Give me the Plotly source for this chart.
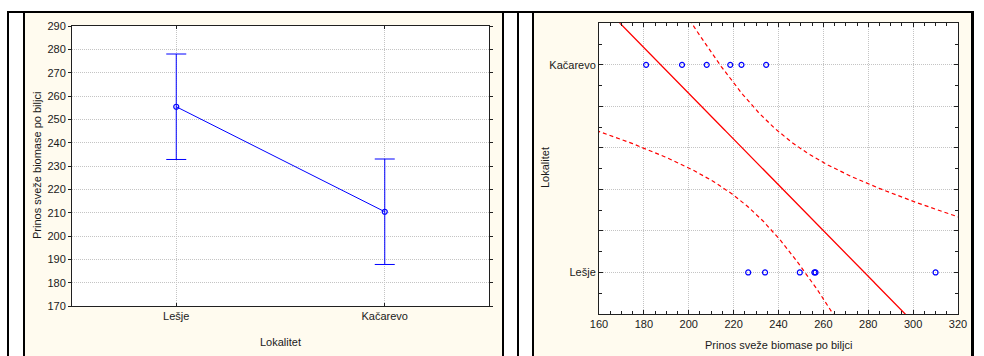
import numpy as np
import plotly.graph_objects as go

# ---------------- data ----------------
categories = ["Lešje", "Kačarevo"]
means = [255.4, 210.4]
ci_half = [22.6, 22.6]

lesje_vals = [226.5, 234.0, 249.5, 256.0, 256.5, 310.0]
kacarevo_vals = [181.0, 197.0, 208.0, 218.5, 223.5, 234.5]
group_codes = [0, 1]  # Lešje = 0, Kačarevo = 1

left_yticks = list(range(170, 291, 10))
right_xticks = list(range(160, 321, 20))
right_ygrid = [-0.2, 0.0, 0.2, 0.4, 0.6, 0.8, 1.0, 1.2]

# ---------------- regression (group code on biomass) with 95% CI ----------------
xs = np.array(lesje_vals + kacarevo_vals)
ys = np.array([group_codes[0]] * len(lesje_vals) + [group_codes[1]] * len(kacarevo_vals), dtype=float)
n = len(xs)
b, a = np.polyfit(xs, ys, 1)
xm = xs.mean()
sxx = ((xs - xm) ** 2).sum()
s = np.sqrt(((ys - (a + b * xs)) ** 2).sum() / (n - 2))
t_crit = 2.228  # t(0.975, df=10)
xg = np.linspace(150, 330, 361)
yfit = a + b * xg
hw = t_crit * s * np.sqrt(1.0 / n + (xg - xm) ** 2 / sxx)

W, H = 984, 356
def px(v):
    return v / W
def py(v):
    return 1 - v / H

fig = go.Figure()

BLUE = "#0000FF"
RED = "#FF0000"
TXT = "#1a1a1a"
FONT = "Liberation Sans, Arial, sans-serif"

# left chart: means with error bars
fig.add_trace(go.Scatter(
    x=categories, y=means, mode="lines+markers",
    line=dict(color=BLUE, width=1),
    marker=dict(symbol="circle-open", size=5, color=BLUE, line=dict(width=1.2)),
    error_y=dict(type="data", array=ci_half, color=BLUE, thickness=1, width=10),
    xaxis="x", yaxis="y", showlegend=False, hoverinfo="skip"))

# right chart: regression line and 95% confidence band
fig.add_trace(go.Scatter(
    x=xg, y=yfit, mode="lines", line=dict(color=RED, width=1.3),
    xaxis="x2", yaxis="y2", showlegend=False))
fig.add_trace(go.Scatter(
    x=xg, y=yfit + hw, mode="lines", line=dict(color=RED, width=1.2, dash="4px,3px"),
    xaxis="x2", yaxis="y2", showlegend=False))
fig.add_trace(go.Scatter(
    x=xg, y=yfit - hw, mode="lines", line=dict(color=RED, width=1.2, dash="4px,3px"),
    xaxis="x2", yaxis="y2", showlegend=False))

# right chart: points
fig.add_trace(go.Scatter(
    x=lesje_vals, y=[group_codes[0]] * len(lesje_vals), mode="markers",
    marker=dict(symbol="circle-open", size=5, color=BLUE, line=dict(width=1.2)),
    xaxis="x2", yaxis="y2", showlegend=False))
fig.add_trace(go.Scatter(
    x=kacarevo_vals, y=[group_codes[1]] * len(kacarevo_vals), mode="markers",
    marker=dict(symbol="circle-open", size=5, color=BLUE, line=dict(width=1.2)),
    xaxis="x2", yaxis="y2", showlegend=False))

axis_common = dict(
    showline=True, linecolor="#202020", linewidth=1, mirror="ticks",
    showgrid=True, gridcolor="#C4C4C4", griddash="1px,1px", gridwidth=1,
    zeroline=False, tickfont=dict(size=11, color=TXT, family=FONT),
    ticks="inside", ticklen=3, tickcolor="#202020", automargin=False,
)

shapes = []
CREAM = "#FFFBEF"
# cream panels
shapes.append(dict(type="rect", xref="paper", yref="paper", x0=px(25), x1=px(502), y0=py(356), y1=py(13),
                   fillcolor=CREAM, line=dict(width=0), layer="below"))
shapes.append(dict(type="rect", xref="paper", yref="paper", x0=px(534), x1=px(971), y0=py(356), y1=py(13),
                   fillcolor=CREAM, line=dict(width=0), layer="below"))
# white plot areas
shapes.append(dict(type="rect", xref="paper", yref="paper", x0=px(72), x1=px(489), y0=py(306), y1=py(26),
                   fillcolor="white", line=dict(width=0), layer="below"))
shapes.append(dict(type="rect", xref="paper", yref="paper", x0=px(599), x1=px(958), y0=py(314), y1=py(23.3),
                   fillcolor="white", line=dict(width=0), layer="below"))
# black table borders
shapes.append(dict(type="rect", xref="paper", yref="paper", x0=px(7), x1=px(974), y0=py(13), y1=py(11),
                   fillcolor="black", line=dict(width=0), layer="above"))
for x0, x1 in [(7, 9), (23, 25), (502, 504), (517, 519), (532, 534), (971, 974)]:
    shapes.append(dict(type="rect", xref="paper", yref="paper", x0=px(x0), x1=px(x1), y0=py(356), y1=py(11),
                       fillcolor="black", line=dict(width=0), layer="above"))

annotations = [
    dict(text="Prinos sveže biomase po biljci", xref="paper", yref="paper", x=px(37), y=py(166),
         textangle=-90, showarrow=False, font=dict(size=11, color=TXT, family=FONT),
         xanchor="center", yanchor="middle"),
    dict(text="Lokalitet", xref="paper", yref="paper", x=px(280.5), y=py(342),
         showarrow=False, font=dict(size=11, color=TXT, family=FONT), xanchor="center", yanchor="middle"),
    dict(text="Lokalitet", xref="paper", yref="paper", x=px(545), y=py(168),
         textangle=-90, showarrow=False, font=dict(size=11, color=TXT, family=FONT),
         xanchor="center", yanchor="middle"),
    dict(text="Prinos sveže biomase po biljci", xref="paper", yref="paper", x=px(778), y=py(345),
         showarrow=False, font=dict(size=11, color=TXT, family=FONT), xanchor="center", yanchor="middle"),
]

right_yticktext = [categories[group_codes.index(v)] if v in group_codes else "" for v in
                   [round(g, 1) for g in right_ygrid]]

fig.update_layout(
    width=W, height=H, margin=dict(l=0, r=0, t=0, b=0, pad=0, autoexpand=False),
    autosize=False,
    paper_bgcolor="white", plot_bgcolor="white",
    font=dict(family=FONT, size=11, color=TXT),
    xaxis=dict(axis_common, domain=[px(72), px(489)], anchor="y", type="category",
               range=[-0.5, 1.5], ticklen=3),
    yaxis=dict(axis_common, domain=[py(306), py(26)], anchor="x", range=[170, 290],
               tickvals=left_yticks, ticks="outside", ticklen=3),
    xaxis2=dict(axis_common, domain=[px(599), px(958)], anchor="y2", range=[160, 320],
                tickvals=right_xticks, ticklen=4,
                minor=dict(dtick=5, tick0=160, ticks="inside", ticklen=3, tickcolor="#202020", showgrid=False)),
    yaxis2=dict(axis_common, domain=[py(314), py(23.3)], anchor="x2", range=[-0.2, 1.2],
                tickmode="array", tickvals=right_ygrid, ticktext=right_yticktext, ticklen=4,
                minor=dict(dtick=0.1, tick0=0, ticks="inside", ticklen=3, tickcolor="#202020", showgrid=False)),
    shapes=shapes, annotations=annotations,
)

fig.write_html("out.html", config={"responsive": False})
